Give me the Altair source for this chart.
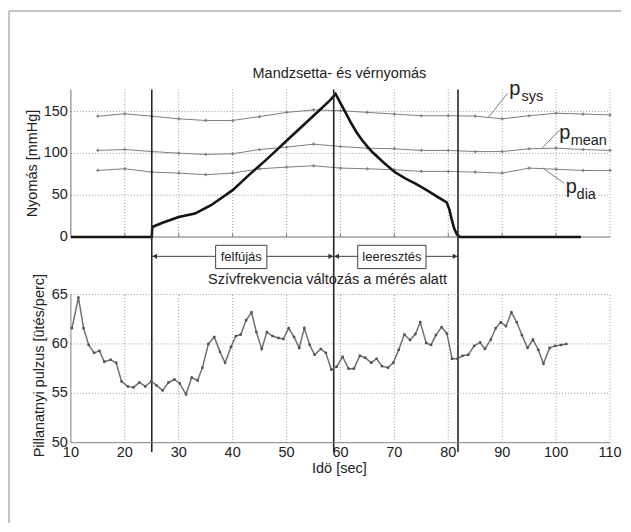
import altair as alt
import pandas as pd

FONT = "Liberation Sans"

# ---------------- data ----------------
# instantaneous heart rate (beats/min) vs time (s)
hr_time = [10.2, 11.4, 12.35, 13.3, 14.3, 15.3, 16.2, 17.35, 18.4, 19.4, 20.55, 21.6, 22.7, 23.8, 24.9,
           25.9, 27.0, 28.1, 29.2, 30.2, 31.35, 32.4, 33.5, 34.4, 35.5, 36.6, 37.65, 38.6, 39.7, 40.6,
           41.5, 42.5, 43.5, 44.4, 45.4, 46.35, 47.4, 48.5, 49.4, 50.4, 51.4, 52.35, 53.3, 54.3, 55.2,
           56.35, 57.3, 58.3, 59.3, 60.4, 61.5, 62.5, 63.6, 64.6, 65.7, 66.7, 67.7, 68.8, 69.8, 70.8,
           71.85, 72.9, 73.9, 74.8, 75.9, 76.8, 77.7, 78.75, 79.75, 80.7, 81.7, 82.65, 83.7, 84.8, 85.9,
           86.8, 87.9, 88.8, 89.75, 90.7, 91.7, 92.7, 93.65, 94.7, 95.7, 96.7, 97.65, 98.8, 99.8, 100.9,
           101.9]
hr_bpm = [61.6, 64.7, 61.6, 59.9, 59.1, 59.3, 58.2, 58.4, 58.1, 56.2, 55.7, 55.6, 56.1, 55.7, 56.2,
          55.8, 55.3, 56.1, 56.4, 56.0, 54.9, 56.6, 56.3, 57.6, 60.0, 60.7, 59.2, 58.1, 59.7, 60.8,
          60.95, 62.4, 63.2, 61.2, 59.5, 61.2, 60.8, 60.6, 60.5, 61.6, 60.7, 59.6, 61.6, 59.9, 58.9,
          59.5, 59.1, 57.4, 57.7, 58.7, 57.5, 57.5, 58.8, 58.6, 58.1, 58.5, 57.75, 57.6, 58.1, 59.4,
          60.95, 60.4, 61.0, 62.2, 60.1, 59.9, 60.9, 61.7, 61.05, 58.5, 58.5, 58.8, 58.9, 59.8, 60.15,
          59.5, 60.45, 61.6, 62.2, 61.8, 63.2, 62.2, 60.9, 59.6, 60.45, 59.4, 58.0, 59.6, 59.8, 59.9,
          60.0]

# cuff pressure (mmHg)
cuff_time = [10, 25, 25.1, 27, 30, 33, 36, 40, 43, 46, 48, 50, 52, 54, 56, 58, 59.1,
             60, 61, 62, 63, 64, 65, 66, 68, 70, 72, 74, 76, 78, 79.7, 80.2, 80.6, 81.1, 81.6, 82.2, 104.6]
cuff_mmhg = [0, 0, 12, 17, 24, 28, 38, 56, 74, 91, 103, 115, 127, 139, 151, 163, 171,
             160, 148, 136, 125, 116, 108, 101, 89, 78, 70, 63.5, 56, 48, 41.5, 33, 22, 10, 3, 0, 0]

# blood pressure estimates
bp_time = [15, 20, 25, 30, 35, 40, 45, 50, 55, 60, 65, 70, 75, 80, 85, 90, 95, 100, 105, 110]
p_sys = [144.4, 147.3, 144.4, 141.3, 139.3, 139.3, 144, 149, 152, 151, 149, 147, 145, 145, 144.5,
         141.3, 145, 148, 147, 146]
p_mean = [103.5, 104.6, 102.2, 100.2, 98.7, 99.5, 104.6, 107.4, 111, 108.2, 106.2, 105.5, 103.5,
          103.5, 102.2, 102.2, 105.5, 106.2, 104.6, 103.5]
p_dia = [79.6, 81.6, 77.6, 76.4, 74.5, 76.4, 81.6, 83.5, 85.2, 82.4, 81.6, 80.4, 78.4, 78.4, 77.6,
         76.4, 82.4, 81, 79.6, 79.6]

phase_edges = [25, 58.75, 81.8]
phase_names = ["felfújás", "leeresztés"]

x_ticks = [10, 20, 30, 40, 50, 60, 70, 80, 90, 100, 110]
x_grid = [20, 30, 40, 50, 60, 70, 80, 90, 100, 110]
top_y_ticks = [0, 50, 100, 150]
top_y_grid = [50, 100, 150]
bot_y_ticks = [50, 55, 60, 65]
bot_y_grid = [55, 60, 65]

title_top = "Mandzsetta- és vérnyomás"
title_bot = "Szívfrekvencia változás a mérés alatt"
ylabel_top = "Nyomás [mmHg]"
ylabel_bot = "Pillanatnyi pulzus [ütés/perc]"
xlabel = "Idö [sec]"

# ---------------- scales ----------------
TOP_MAX = 176.26
TOP_MIN = -246.3
BOT_MIN = 49.97
BOT_MAX = 85.75
X_SCALE = alt.Scale(domain=[10, 110], nice=False, zero=False)
TOP_SCALE = alt.Scale(domain=[TOP_MIN, TOP_MAX], nice=False, zero=False)
BOT_SCALE = alt.Scale(domain=[BOT_MIN, BOT_MAX], nice=False, zero=False)

GRID = dict(color="#9a9a9a", strokeDash=[1, 2], strokeWidth=1)
AXC = "#808080"
TXT = "#222222"
FS = 14.5


def xq(f):
    return alt.X(f, type="quantitative", scale=X_SCALE, axis=None)


def yt(f):
    return alt.Y(f, type="quantitative", scale=TOP_SCALE, axis=None)


def yb(f):
    return alt.Y(f, type="quantitative", scale=BOT_SCALE, axis=None)


def df(**cols):
    return pd.DataFrame(cols)


# ---------------- top panel ----------------
frame = alt.Chart(df(x=[-1.48, -1.48], x2=[-1.48, 112.04], y=[270.2, 270.2], y2=[-341.8, 270.2])).mark_rule(
    color="#c4c4c4", strokeWidth=2).encode(x=xq("x"), x2="x2", y=yt("y"), y2="y2")

tgrid_v = alt.Chart(df(x=x_grid, y=[0] * len(x_grid), y2=[TOP_MAX] * len(x_grid))).mark_rule(**GRID).encode(
    x=xq("x"), y=yt("y"), y2="y2")
tgrid_h = alt.Chart(df(y=top_y_grid, x=[10] * 3, x2=[110] * 3)).mark_rule(**GRID).encode(
    x=xq("x"), x2="x2", y=yt("y"))
tticks = alt.Chart(df(x=x_grid[:-1], y=[0] * 9, y2=[5] * 9)).mark_rule(color=AXC, strokeWidth=1).encode(
    x=xq("x"), y=yt("y"), y2="y2")
tspines = alt.Chart(df(x=[10, 10], x2=[10, 110], y=[0, 0], y2=[TOP_MAX, 0])).mark_rule(
    color="#707070", strokeWidth=1).encode(x=xq("x"), x2="x2", y=yt("y"), y2="y2")
tlabels = alt.Chart(df(x=[10] * 4, y=top_y_ticks, txt=[str(v) for v in top_y_ticks])).mark_text(
    font=FONT, fontSize=FS, color=TXT, align="right", baseline="middle", dx=-3).encode(
    x=xq("x"), y=yt("y"), text="txt")
ttitle_y = alt.Chart(df(x=[3.8], y=[87.9], txt=[ylabel_top])).mark_text(
    font=FONT, fontSize=FS, color=TXT, align="center", baseline="alphabetic", angle=270).encode(
    x=xq("x"), y=yt("y"), text="txt")

bp = pd.DataFrame({
    "t": bp_time * 3,
    "p": p_sys + p_mean + p_dia,
    "s": ["sys"] * 20 + ["mean"] * 20 + ["dia"] * 20,
})
bp_lines = alt.Chart(bp).mark_line(color="#808080", strokeWidth=1).encode(
    x=xq("t"), y=yt("p"), detail="s")
bp_pts = alt.Chart(bp).mark_point(shape="cross", size=10, filled=True, color="#808080", opacity=1).encode(
    x=xq("t"), y=yt("p"))

cuff = alt.Chart(df(t=cuff_time, p=cuff_mmhg)).mark_line(color="#141414", strokeWidth=2.6).encode(
    x=xq("t"), y=yt("p"))

leaders = alt.Chart(df(x=[87.46, 97.47, 97.47], x2=[90.98, 100.69, 101.48],
                       y=[143.2, 106.7, 82.8], y2=[171.8, 128.1, 64.4])).mark_rule(
    color="#808080", strokeWidth=1).encode(x=xq("x"), x2="x2", y=yt("y"), y2="y2")
p_main = alt.Chart(df(x=[91.3, 100.56, 101.8], y=[169.7, 116.8, 52.7], txt=["p", "p", "p"])).mark_text(
    font=FONT, fontSize=20, color=TXT, align="left", baseline="alphabetic").encode(
    x=xq("x"), y=yt("y"), text="txt")
p_sub = alt.Chart(df(x=[93.6, 102.7, 103.8], y=[163.1, 110.0, 45.6], txt=["sys", "mean", "dia"])).mark_text(
    font=FONT, fontSize=FS, color=TXT, align="left", baseline="alphabetic").encode(
    x=xq("x"), y=yt("y"), text="txt")

edges = alt.Chart(df(x=phase_edges, y=[-257.0] * 3, y2=[TOP_MAX] * 3)).mark_rule(
    color="#262626", strokeWidth=1.6).encode(x=xq("x"), y=yt("y"), y2="y2")

ARROW_Y = -23.1
arrows = alt.Chart(df(x=phase_edges[:2], x2=phase_edges[1:], y=[ARROW_Y] * 2)).mark_rule(
    color="#404040", strokeWidth=1).encode(x=xq("x"), x2="x2", y=yt("y"))
heads_l = alt.Chart(df(x=[phase_edges[0] + 0.55, phase_edges[1] + 0.55], y=[ARROW_Y] * 2)).mark_point(
    shape="triangle-left", size=28, filled=True, color="#303030", opacity=1).encode(x=xq("x"), y=yt("y"))
heads_r = alt.Chart(df(x=[phase_edges[1] - 0.55, phase_edges[2] - 0.55], y=[ARROW_Y] * 2)).mark_point(
    shape="triangle-right", size=28, filled=True, color="#303030", opacity=1).encode(x=xq("x"), y=yt("y"))
boxes = alt.Chart(df(x=[36.85, 63.2], x2=[46.35, 75.87], y=[-9.93] * 2, y2=[-37.76] * 2)).mark_rect(
    fill="white", stroke="#404040", strokeWidth=1).encode(x=xq("x"), x2="x2", y=yt("y"), y2="y2")
box_txt = alt.Chart(df(x=[41.6, 69.54], y=[-23.9] * 2, txt=phase_names)).mark_text(
    font=FONT, fontSize=13, color=TXT, align="center", baseline="middle").encode(
    x=xq("x"), y=yt("y"), text="txt")

titles = alt.Chart(df(x=[59.8, 57.6], y=[190.0, -56.5], txt=[title_top, title_bot])).mark_text(
    font=FONT, fontSize=FS, color=TXT, align="center", baseline="alphabetic").encode(
    x=xq("x"), y=yt("y"), text="txt")

top = alt.layer(frame, tgrid_v, tgrid_h, tticks, tspines, tlabels, ttitle_y, bp_lines, bp_pts, cuff,
                leaders, p_main, p_sub, edges, arrows, boxes, heads_l, heads_r, box_txt, titles)

# ---------------- bottom panel ----------------
bgrid_v = alt.Chart(df(x=x_grid, y=[50] * len(x_grid), y2=[65] * len(x_grid))).mark_rule(**GRID).encode(
    x=xq("x"), y=yb("y"), y2="y2")
bgrid_h = alt.Chart(df(y=bot_y_grid, x=[10] * 3, x2=[110] * 3)).mark_rule(**GRID).encode(
    x=xq("x"), x2="x2", y=yb("y"))
bspines = alt.Chart(df(x=[10, 10], x2=[10, 110], y=[50, 50], y2=[65, 50])).mark_rule(
    color=AXC, strokeWidth=1).encode(x=xq("x"), x2="x2", y=yb("y"), y2="y2")
blabels_y = alt.Chart(df(x=[10] * 4, y=bot_y_ticks, txt=[str(v) for v in bot_y_ticks])).mark_text(
    font=FONT, fontSize=FS, color=TXT, align="right", baseline="middle", dx=-3).encode(
    x=xq("x"), y=yb("y"), text="txt")
blabels_x = alt.Chart(df(x=x_ticks, y=[48.555] * len(x_ticks), txt=[str(v) for v in x_ticks])).mark_text(
    font=FONT, fontSize=FS, color=TXT, align="center", baseline="alphabetic").encode(
    x=xq("x"), y=yb("y"), text="txt")
btitles = alt.Chart(df(x=[5.0, 59.8], y=[57.8, 46.887], txt=[ylabel_bot, xlabel], ang=[270, 0])).mark_text(
    font=FONT, fontSize=FS, color=TXT, align="center", baseline="alphabetic").encode(
    x=xq("x"), y=yb("y"), text="txt", angle=alt.Angle("ang:Q", scale=None))

hr_df = df(t=hr_time, bpm=hr_bpm)
hr_line = alt.Chart(hr_df).mark_line(color="#707070", strokeWidth=1.5).encode(
    x=xq("t"), y=yb("bpm"))
hr_pts = alt.Chart(hr_df).mark_point(shape="square", size=6, filled=True, color="#505050", opacity=1).encode(
    x=xq("t"), y=yb("bpm"))

bottom = alt.layer(bgrid_v, bgrid_h, bspines, blabels_y, blabels_x, btitles, hr_line, hr_pts)

chart = alt.layer(top, bottom).resolve_scale(y="independent").properties(
    width=540, height=354,
    autosize=alt.AutoSizeParams(type="pad"),
    padding={"left": 0, "top": 1.3, "right": 0, "bottom": 0},
    background="white",
).configure_view(stroke=None)

chart.save("out.html", embed_options={"renderer": "svg", "actions": False})
